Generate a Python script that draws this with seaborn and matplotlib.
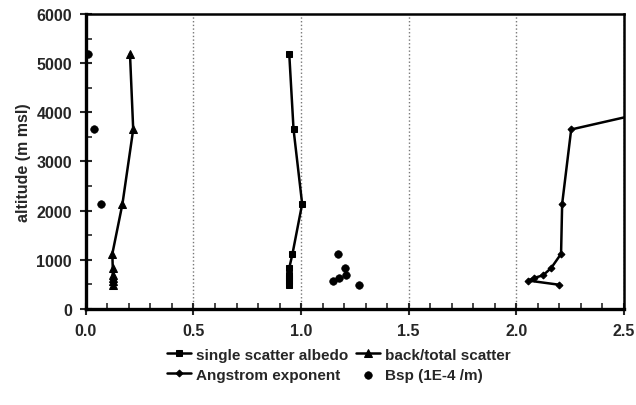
"""Vertical profiles of aerosol optical properties"""

import matplotlib
matplotlib.use('Agg')
import matplotlib.pyplot as plt
from matplotlib.ticker import MultipleLocator
import pandas as pd
import seaborn as sns

# altitudes (m msl), shared by all series, top to bottom
altitude = [5190, 3650, 2135, 1118, 830, 680, 630, 575, 490]
# single scatter albedo
albedo = [0.945, 0.965, 1.005, 0.96, 0.945, 0.945, 0.945, 0.945, 0.945]
# back/total scatter ratio
back_total = [0.205, 0.22, 0.17, 0.123, 0.125, 0.125, 0.125, 0.125, 0.125]
# Angstrom exponent (top point runs off the right edge)
angstrom = [3.8, 2.255, 2.213, 2.208, 2.162, 2.124, 2.084, 2.054, 2.198]
# scattering coefficient Bsp (1E-4 /m)
bsp = [0.01, 0.04, 0.07, 1.173, 1.202, 1.207, 1.176, 1.15, 1.269]

df = pd.DataFrame({'altitude': altitude, 'albedo': albedo,
                   'back_total': back_total, 'angstrom': angstrom,
                   'bsp': bsp})

sns.set_style('white')
plt.rcParams['font.family'] = ['Liberation Sans', 'DejaVu Sans']

fig = plt.figure(figsize=(6.36, 4.06), dpi=100)
ax = fig.add_axes([0.135, 0.237, 0.846, 0.726])

# estimator=None keeps every point (no averaging over repeated x values)
line_kw = dict(color='black', linewidth=1.8, sort=False, estimator=None,
               errorbar=None, markeredgecolor='black', ax=ax)
sns.lineplot(data=df, x='albedo', y='altitude', marker='s', markersize=5,
             label='single scatter albedo', **line_kw)
sns.lineplot(data=df, x='angstrom', y='altitude', marker='D', markersize=3.5,
             label='Angstrom exponent', **line_kw)
sns.lineplot(data=df, x='back_total', y='altitude', marker='^', markersize=5.5,
             label='back/total scatter', **line_kw)
sns.scatterplot(data=df, x='bsp', y='altitude', color='black', s=30,
                edgecolor='black', label='Bsp (1E-4 /m)', ax=ax)

ax.set_xlim(0, 2.5)
ax.set_ylim(0, 6000)
ax.xaxis.set_major_locator(MultipleLocator(0.5))
ax.xaxis.set_minor_locator(MultipleLocator(0.1))
ax.yaxis.set_major_locator(MultipleLocator(1000))
ax.yaxis.set_minor_locator(MultipleLocator(500))
ax.xaxis.set_major_formatter(plt.FormatStrFormatter('%.1f'))
ax.tick_params(which='major', direction='inout', length=8, width=1.5,
               labelsize=11.5, pad=6, left=True, bottom=True)
ax.tick_params(which='minor', direction='in', length=4, width=1.2,
               left=True, bottom=True)
for lab in ax.get_xticklabels() + ax.get_yticklabels():
    lab.set_fontweight('bold')

ax.grid(axis='x', which='major', color='#777777', linestyle=':', linewidth=1)
for side in ['left', 'bottom']:
    ax.spines[side].set_linewidth(2.4)
for side in ['top', 'right']:
    ax.spines[side].set_linewidth(1.8)
for sp in ax.spines.values():
    sp.set_color('black')

ax.set_xlabel('')
ax.set_ylabel('altitude (m msl)', fontsize=11.5, fontweight='bold', labelpad=4)

ax.legend(loc='upper center', bbox_to_anchor=(0.47, -0.085), ncol=2,
          frameon=False, prop={'size': 11, 'weight': 'bold'},
          handlelength=1.6, columnspacing=0.5,
          handletextpad=0.3, labelspacing=0.4)

fig.savefig('out.png', dpi=100)
